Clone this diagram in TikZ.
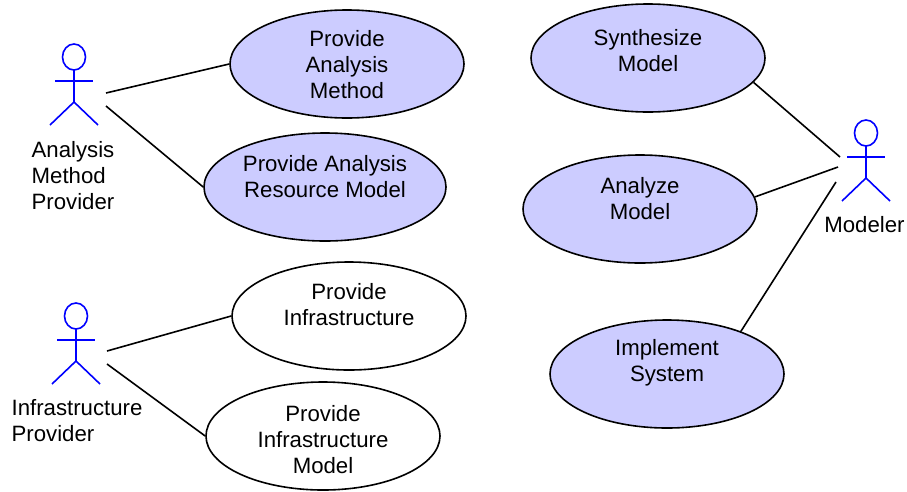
\documentclass[tikz,border=0pt]{standalone}
\usepackage{fontspec}
\setmainfont{Liberation Sans}
\usetikzlibrary{positioning}
\usetikzlibrary{shapes.geometric}
\definecolor{usefill}{HTML}{CCCCFF}
\tikzset{
    usecase/.style={ellipse, draw, line width=1.6pt, minimum width=234pt, minimum height=108pt, inner sep=0pt},
    filled/.style={usecase, fill=usefill},
    usetext/.style={inner sep=0pt, align=center, font=\fontsize{22.2}{26}\selectfont},
    actorlabel/.style={inner sep=0pt, font=\fontsize{22.2}{26}\selectfont},
    actorline/.style={draw=blue, line width=1.6pt},
    assoc/.style={draw, line width=1.6pt},
    pics/actor/.style={code={
        \draw[actorline] (0,0) ellipse (11.5 and 13);
        \draw[actorline] (0,13) -- (0,45);
        \draw[actorline] (-19,24) -- (19,24);
        \draw[actorline] (-24,68) -- (0,45) -- (24,68);
    }}
}
\begin{document}
\begin{tikzpicture}[x=1pt, y=-1pt]

            \useasboundingbox (0,0) rectangle (907,491);

            \node[filled, label={[usetext, yshift=-1pt]center:Provide\\Analysis\\Method}] (method) at (347,64) {};
            \node[filled, minimum width=242pt, label={[usetext, yshift=10pt]center:Provide Analysis\\Resource Model}] (resource) at (325,187) {};
            \node[usecase, label={[usetext, yshift=11pt]center:Provide\\Infrastructure}] (infra) at (349,316) {};
            \node[usecase, label={[usetext, yshift=-4pt]center:Provide\\Infrastructure\\Model}] (inframodel) at (323,436) {};
            \node[filled, label={[usetext, yshift=7pt]center:Synthesize\\Model}] (synth) at (648,58) {};
            \node[filled, label={[usetext, yshift=10pt]center:Analyze\\Model}] (analyze) at (640,209) {};
            \node[filled, label={[usetext, yshift=11pt]center:Implement\\System}] (implement) at (667,374) {};

            \pic at (74,57) {actor};
            \pic at (76,316) {actor};
            \pic at (866,133) {actor};

            \node[actorlabel, align=left] (l_method) at (73,176) {Analysis\\Method\\Provider};
            \node[actorlabel, align=left] (l_infra) at (77,421) {Infrastructure\\Provider};
            \node[actorlabel] (l_modeler) [below = 15pt of {(864.5,201)}] {Modeler};

            \coordinate (a_1) at (106,93);
            \coordinate (a_2) at (106,106);
            \coordinate (b_1) at (107,351);
            \coordinate (b_2) at (107,364);
            \coordinate (c_1) at (840,157);
            \coordinate (c_2) at (838,167);
            \coordinate (c_3) at (836,182);

            \path[assoc]
                (a_1) edge (method.west)
                (a_2) edge (resource.west)
                (b_1) edge (infra.west)
                (b_2) edge (inframodel.west)
                (c_1) edge (synth.-13)
                (c_2) edge (analyze.6)
                (c_3) edge (implement.30);

        \end{tikzpicture}
\end{document}
